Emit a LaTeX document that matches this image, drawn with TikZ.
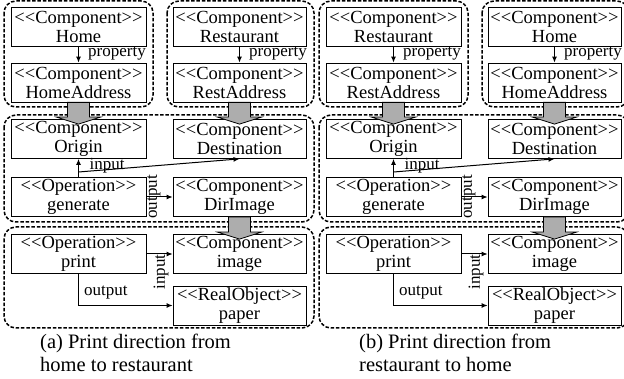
\documentclass[tikz,border=0pt]{standalone}
\usepackage{fontspec}
\setmainfont{Liberation Serif}
\usetikzlibrary{arrows.meta,calc}

% two-line stereotype label; the kerns keep << and >> from turning into guillemets
\newcommand\stq[2]{<\kern0pt<#1>\kern0pt>\\#2}

\tikzset{
  uml/.style={draw, line width=0.8pt, rectangle, minimum height=39pt,
    inner sep=0pt, align=center, font=\fontsize{18.5}{19}\selectfont},
  lcol/.style={uml, minimum width=135pt},
  rcol/.style={uml, minimum width=133pt},
  grp/.style={draw, line width=1.5pt, dash pattern=on 3.5pt off 1.8pt, rounded corners=12pt},
  lnk/.style={line width=1pt, -{Latex[length=6pt,width=5pt]}},
  lbl/.style={font=\fontsize{17}{17}\selectfont, inner sep=0pt},
  fat/.style={draw=black, fill=black!32, line width=0.8pt},
  capt/.style={font=\fontsize{20.5}{23}\selectfont, align=left, inner sep=0pt, anchor=north west}
}

% grey block arrow from the bottom of #1 into the top of #2
\newcommand\fatarrow[2]{%
  \draw[fat] ($(#1.south)+(-11,0)$) -- ($(#2.north)+(-11,-2)$) -- ($(#2.north)+(-22,-2)$)
    -- ($(#2.north)+(0,5)$) -- ($(#2.north)+(22,-2)$) -- ($(#2.north)+(11,-2)$)
    -- ($(#1.south)+(11,0)$) -- cycle;}

% one scenario: #1 shift, #2 name prefix, #3/#4 left source, #5/#6 right source, #7 caption, #8 caption x
\newcommand\scenario[8]{%
\begin{scope}[xshift=#1]
  \node[lcol] (#2-tl)  at (78.5,26.5)  {\stq{Component}{#3}};
  \node[lcol] (#2-tla) at (78.5,82.5)  {\stq{Component}{#4}};
  \node[rcol] (#2-tr)  at (239.5,26.5) {\stq{Component}{#5}};
  \node[rcol] (#2-tra) at (239.5,82.5) {\stq{Component}{#6}};
  \node[lcol] (#2-org) at (78.5,139)   {\stq{Component}{Origin}};
  \node[rcol] (#2-dst) at (239.5,139)  {\stq{Component}{Destination}};
  \node[lcol] (#2-gen) at (78.5,197)   {\stq{Operation}{generate}};
  \node[rcol] (#2-dir) at (239.5,197)  {\stq{Component}{DirImage}};
  \node[lcol] (#2-prt) at (78.5,254)   {\stq{Operation}{print}};
  \node[rcol] (#2-img) at (239.5,254)  {\stq{Component}{image}};
  \node[rcol] (#2-pap) at (239.5,305.5){\stq{RealObject}{paper}};
  % dashed groups
  \draw[grp] (4,1) rectangle (153,107);
  \draw[grp] (167,1) rectangle (314,107);
  \draw[grp] (4,115) rectangle (314,222);
  \draw[grp] (4,227) rectangle (314,328);
  % property links
  \draw[lnk] (#2-tl) -- (#2-tla);
  \node[lbl, anchor=west] (#2-p1) at (88,54) {property};
  \draw[lnk] (#2-tr) -- (#2-tra);
  \node[lbl, anchor=west] (#2-p2) at (249,54) {property};
  % generate
  \draw[lnk] (#2-gen.north) -- (#2-org.south);
  \coordinate (#2-split) at (78.5,172);
  \draw[lnk] (#2-split) -- (#2-dst.south);
  \node[lbl] (#2-in1) at (107,166) {input};
  \draw[lnk] (#2-gen) -- (#2-dir);
  \node[lbl, rotate=90] (#2-out1) at (154,197) {output};
  % print
  \draw[lnk] (#2-prt) -- (#2-img);
  \node[lbl, rotate=90] (#2-in2) at (161,272) {input};
  \draw[lnk] (#2-prt.south) |- (#2-pap.west);
  \node[lbl, anchor=west] (#2-out2) at (84,293) {output};
  % hand-over arrows
  \fatarrow{#2-tla}{#2-org}
  \fatarrow{#2-tra}{#2-dst}
  \fatarrow{#2-dir}{#2-img}
  \node[capt] (#2-cap) at (#8,334) {#7};
\end{scope}}

\begin{document}
\begin{tikzpicture}[x=1pt, y=-1pt]
  \useasboundingbox (0,0) rectangle (624,379);
  \clip (0,0) rectangle (624,379);
  \scenario{0pt}{a}{Home}{HomeAddress}{Restaurant}{RestAddress}%
    {(a) Print direction from\\home to restaurant}{40}
  \scenario{315pt}{b}{Restaurant}{RestAddress}{Home}{HomeAddress}%
    {(b) Print direction from\\restaurant to home}{44}
\end{tikzpicture}
\end{document}
